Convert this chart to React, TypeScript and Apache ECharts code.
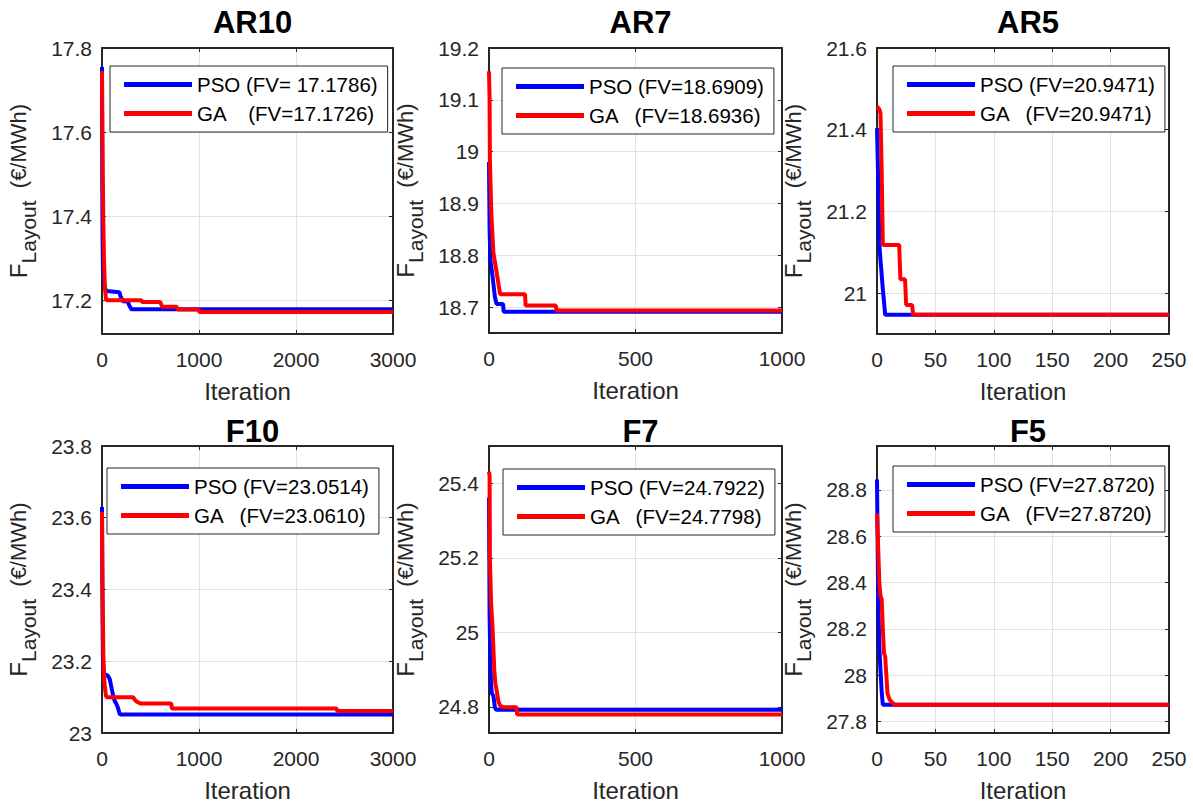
import React, { useEffect, useRef } from 'react';
import * as echarts from 'echarts';

const FONT = '"Liberation Sans", Arial, sans-serif';

const panelTitles = ['AR10', 'AR7', 'AR5', 'F10', 'F7', 'F5'];
const psoNames = ['PSO (FV= 17.1786)', 'PSO (FV=18.6909)', 'PSO (FV=20.9471)', 'PSO (FV=23.0514)', 'PSO (FV=24.7922)', 'PSO (FV=27.8720)'];
const gaNames = ['GA    (FV=17.1726)', 'GA   (FV=18.6936)', 'GA   (FV=20.9471)', 'GA   (FV=23.0610)', 'GA   (FV=24.7798)', 'GA   (FV=27.8720)'];

const xMax = [3000, 1000, 250, 3000, 1000, 250];
const xInterval = [1000, 500, 50, 1000, 500, 50];
const yMin = [17.12, 18.65, 20.9, 23.0, 24.73, 27.75];
const yMax = [17.8, 19.2, 21.6, 23.8, 25.5, 28.99];
const yTicks = [
  [17.2, 17.4, 17.6, 17.8],
  [18.7, 18.8, 18.9, 19, 19.1, 19.2],
  [21, 21.2, 21.4, 21.6],
  [23, 23.2, 23.4, 23.6, 23.8],
  [24.8, 25, 25.2, 25.4],
  [27.8, 28, 28.2, 28.4, 28.6, 28.8],
];

const psoAR10 = [[0, 17.755], [1, 17.62], [3, 17.46], [6, 17.34], [10, 17.28], [18, 17.245], [28, 17.232], [45, 17.222], [180, 17.219], [190, 17.21], [215, 17.198], [265, 17.197], [285, 17.186], [305, 17.1786], [3000, 17.1786]];
const gaAR10 = [[0, 17.745], [3, 17.65], [8, 17.5], [13, 17.4], [20, 17.3], [30, 17.23], [40, 17.205], [48, 17.2], [405, 17.2], [415, 17.196], [600, 17.196], [620, 17.185], [770, 17.185], [780, 17.178], [990, 17.178], [1005, 17.1726], [3000, 17.1726]];
const psoAR7 = [[0, 18.98], [2, 18.85], [5, 18.79], [12, 18.76], [20, 18.72], [26, 18.706], [48, 18.706], [50, 18.6909], [1000, 18.6909]];
const gaAR7 = [[0, 19.155], [2, 19.1], [3, 18.985], [8, 18.88], [15, 18.805], [26, 18.767], [35, 18.735], [38, 18.725], [123, 18.725], [125, 18.703], [228, 18.703], [231, 18.6936], [1000, 18.6936]];
const psoAR5 = [[0, 21.404], [1, 21.28], [2, 21.12], [3, 21.08], [5, 21.01], [7, 20.9471], [250, 20.9471]];
const gaAR5 = [[0, 21.457], [2, 21.45], [3, 21.44], [4, 21.3], [5, 21.118], [19, 21.118], [20, 21.034], [24, 21.034], [25, 20.971], [30, 20.971], [31, 20.9471], [250, 20.9471]];
const psoF10 = [[0, 23.63], [3, 23.45], [6, 23.3], [10, 23.2], [20, 23.165], [60, 23.16], [80, 23.15], [95, 23.13], [110, 23.11], [130, 23.09], [150, 23.08], [165, 23.07], [180, 23.055], [190, 23.0514], [3000, 23.0514]];
const gaF10 = [[0, 23.616], [5, 23.4], [10, 23.3], [15, 23.2], [25, 23.14], [40, 23.105], [48, 23.1], [320, 23.1], [340, 23.092], [360, 23.087], [400, 23.082], [715, 23.082], [720, 23.068], [2420, 23.068], [2425, 23.061], [3000, 23.061]];
const psoF7 = [[0, 25.362], [1, 25.2], [2, 25.05], [4, 24.95], [7, 24.86], [10, 24.836], [15, 24.83], [20, 24.8], [24, 24.7922], [1000, 24.7922]];
const gaF7 = [[0, 25.431], [2, 25.42], [3, 25.2], [7, 25.08], [12, 25.015], [18, 24.9], [22, 24.86], [25, 24.85], [32, 24.815], [38, 24.803], [50, 24.799], [94, 24.799], [96, 24.7798], [1000, 24.7798]];
const psoF5 = [[0, 28.845], [1, 28.33], [2, 28.12], [3, 28.02], [4, 27.93], [5, 27.872], [250, 27.872]];
const gaF5 = [[0, 28.698], [1, 28.55], [2, 28.4], [3, 28.34], [4, 28.33], [5, 28.2], [6, 28.095], [7, 28.08], [8, 28.0], [9, 27.92], [11, 27.892], [14, 27.877], [15, 27.872], [250, 27.872]];

const psoData = [psoAR10, psoAR7, psoAR5, psoF10, psoF7, psoF5];
const gaData = [gaAR10, gaAR7, gaAR5, gaF10, gaF7, gaF5];

// layout
const gridLeft = [102, 489, 877, 102, 489, 877];
const gridTop = [48, 48, 48, 446, 446, 446];
const gridW = [291, 293, 292, 291, 293, 292];
const gridH = [286, 285, 286, 287, 287, 287];
const legendLeft = [110, 502, 893, 107, 503, 893];
const legendTop = [66, 68, 66, 468, 469, 466];
const titleTop = [2, 2, 2, 411, 411, 411];

const AX = '#262626';

function fmtY(v: number) {
  return String(parseFloat(v.toFixed(2)));
}

function buildOption() {
  const grid: any[] = [];
  const xAxis: any[] = [];
  const yAxis: any[] = [];
  const series: any[] = [];
  const legend: any[] = [];
  const title: any[] = [];
  const axisLine = { show: true, onZero: false, lineStyle: { color: AX, width: 2 } };
  const tick = { show: true, inside: true, length: 4, lineStyle: { color: AX, width: 1 } };
  const split = { show: true, lineStyle: { color: '#e2e2e2', width: 1 } };
  for (let i = 0; i < 6; i++) {
    grid.push({ left: gridLeft[i], top: gridTop[i], width: gridW[i], height: gridH[i] });
    title.push({
      text: panelTitles[i],
      left: gridLeft[i] + gridW[i] / 2,
      top: titleTop[i],
      textAlign: 'center',
      textStyle: { fontSize: 31, fontWeight: 'bold', color: '#000', fontFamily: FONT },
    });
  }
  for (let i = 0; i < 6; i++) {
    xAxis.push({
      type: 'value', gridIndex: i, min: 0, max: xMax[i], interval: xInterval[i], position: 'bottom',
      axisLine, axisTick: tick,
      axisLabel: { fontSize: 21, color: AX, margin: 15, fontFamily: FONT, formatter: (v: number) => String(v) },
      splitLine: split,
      name: 'Iteration', nameLocation: 'middle', nameGap: 45,
      nameTextStyle: { fontSize: 24, color: AX, fontFamily: FONT },
    });
    yAxis.push({
      type: 'value', gridIndex: i, min: yMin[i], max: yMax[i], position: 'left',
      axisLine, axisTick: { ...tick, customValues: yTicks[i] },
      axisLabel: { customValues: yTicks[i], fontSize: 21, color: AX, margin: 10, fontFamily: FONT, formatter: (v: number) => fmtY(v) },
      splitLine: split,
      name: '{f|F}{s|Layout}{u|  (€/MWh)}', nameLocation: 'middle', nameGap: 63,
      nameTextStyle: {
        color: AX, fontFamily: FONT, fontSize: 24,
        rich: {
          f: { fontSize: 24, color: AX, fontFamily: FONT },
          s: { fontSize: 21, color: AX, fontFamily: FONT, padding: [20, 0, 0, 0] },
          u: { fontSize: 22, color: AX, fontFamily: FONT },
        },
      },
    });
  }
  for (let i = 0; i < 6; i++) {
    xAxis.push({
      type: 'value', gridIndex: i, min: 0, max: xMax[i], interval: xInterval[i], position: 'top',
      axisLine, axisTick: tick, axisLabel: { show: false }, splitLine: { show: false },
    });
    yAxis.push({
      type: 'value', gridIndex: i, min: yMin[i], max: yMax[i], position: 'right',
      axisLine, axisTick: { ...tick, customValues: yTicks[i] },
      axisLabel: { show: false, customValues: yTicks[i] }, splitLine: { show: false },
    });
  }
  for (let i = 0; i < 6; i++) {
    series.push({
      type: 'line', name: psoNames[i], xAxisIndex: i, yAxisIndex: i, data: psoData[i],
      symbol: 'none', showSymbol: false, silent: true,
      lineStyle: { width: 4, color: '#0000ff' }, itemStyle: { color: '#0000ff' },
    });
    series.push({
      type: 'line', name: gaNames[i], xAxisIndex: i, yAxisIndex: i, data: gaData[i],
      symbol: 'none', showSymbol: false, silent: true,
      lineStyle: { width: 4, color: '#ff0000' }, itemStyle: { color: '#ff0000' },
    });
    legend.push({
      data: [psoNames[i], gaNames[i]],
      orient: 'vertical', left: legendLeft[i], top: legendTop[i],
      icon: 'rect', itemWidth: 68, itemHeight: 5, itemGap: 8,
      padding: [8, 10, 8, 14],
      borderColor: AX, borderWidth: 1, backgroundColor: '#fff',
      selectedMode: false,
      textStyle: { fontSize: 20.5, color: '#000', fontFamily: FONT },
    });
  }
  return { animation: false, backgroundColor: '#fff', grid, xAxis, yAxis, series, legend, title };
}

export default function App() {
  const ref = useRef<HTMLDivElement>(null);
  useEffect(() => {
    const chart = echarts.init(ref.current as HTMLDivElement, null, { renderer: 'svg' });
    chart.setOption(buildOption());
    return () => chart.dispose();
  }, []);
  return <div ref={ref} style={{ position: 'fixed', left: 0, top: 0, width: 1193, height: 803, background: '#fff' }} />;
}
